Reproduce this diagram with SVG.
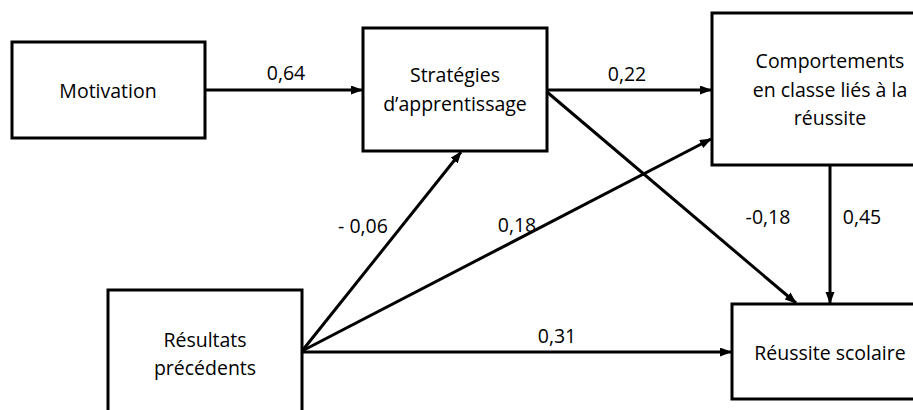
<svg xmlns="http://www.w3.org/2000/svg" width="913" height="410" viewBox="0 0 913 410">
<style>
.box{fill:#fff;stroke:#000;stroke-width:3}
.t{font-family:"Open Sans","Liberation Sans",Arial,sans-serif;font-size:19.5px;fill:#000;text-anchor:middle}
.c{stroke:#000;stroke-width:3;fill:none;marker-end:url(#ah)}
</style>
<defs>
<marker id="ah" markerUnits="userSpaceOnUse" markerWidth="12" markerHeight="10" refX="11" refY="4.5" orient="auto">
<path d="M0,0 L12,4.5 L0,9 z" fill="#000"/>
</marker>
</defs>
<rect width="913" height="410" fill="#fff"/>
<g id="connectors">
<line class="c" x1="205" y1="90" x2="362" y2="90"/>
<line class="c" x1="547" y1="90" x2="711" y2="90"/>
<line class="c" x1="547" y1="92" x2="796" y2="303"/>
<line class="c" x1="302" y1="351" x2="461" y2="152"/>
<line class="c" x1="302" y1="351" x2="711" y2="139"/>
<line class="c" x1="302" y1="352" x2="731" y2="352"/>
<line class="c" x1="830" y1="165" x2="830" y2="303"/>
<text class="t" x="286" y="80">0,64</text>
<text class="t" x="627" y="81">0,22</text>
<text class="t" x="363" y="233">- 0,06</text>
<text class="t" x="517" y="232">0,18</text>
<text class="t" x="768" y="224">-0,18</text>
<text class="t" x="862" y="224">0,45</text>
<text class="t" x="557" y="343">0,31</text>
</g>
<g id="motivation">
<rect class="box" x="12" y="42" width="193" height="96"/>
<text class="t" x="108" y="98">Motivation</text>
</g>
<g id="strategies">
<rect class="box" x="363" y="28" width="184" height="123"/>
<text class="t" x="455" y="82">Stratégies</text>
<text class="t" x="455" y="111">d’apprentissage</text>
</g>
<g id="comportements">
<rect class="box" x="712" y="13" width="240" height="152"/>
<text class="t" x="830" y="68">Comportements</text>
<text class="t" x="830" y="97">en classe liés à la</text>
<text class="t" x="830" y="125">réussite</text>
</g>
<g id="resultats">
<rect class="box" x="108" y="290" width="194" height="140"/>
<text class="t" x="205" y="347">Résultats</text>
<text class="t" x="205" y="375">précédents</text>
</g>
<g id="reussite">
<rect class="box" x="732" y="304" width="200" height="95"/>
<text class="t" x="830" y="360">Réussite scolaire</text>
</g>
</svg>
